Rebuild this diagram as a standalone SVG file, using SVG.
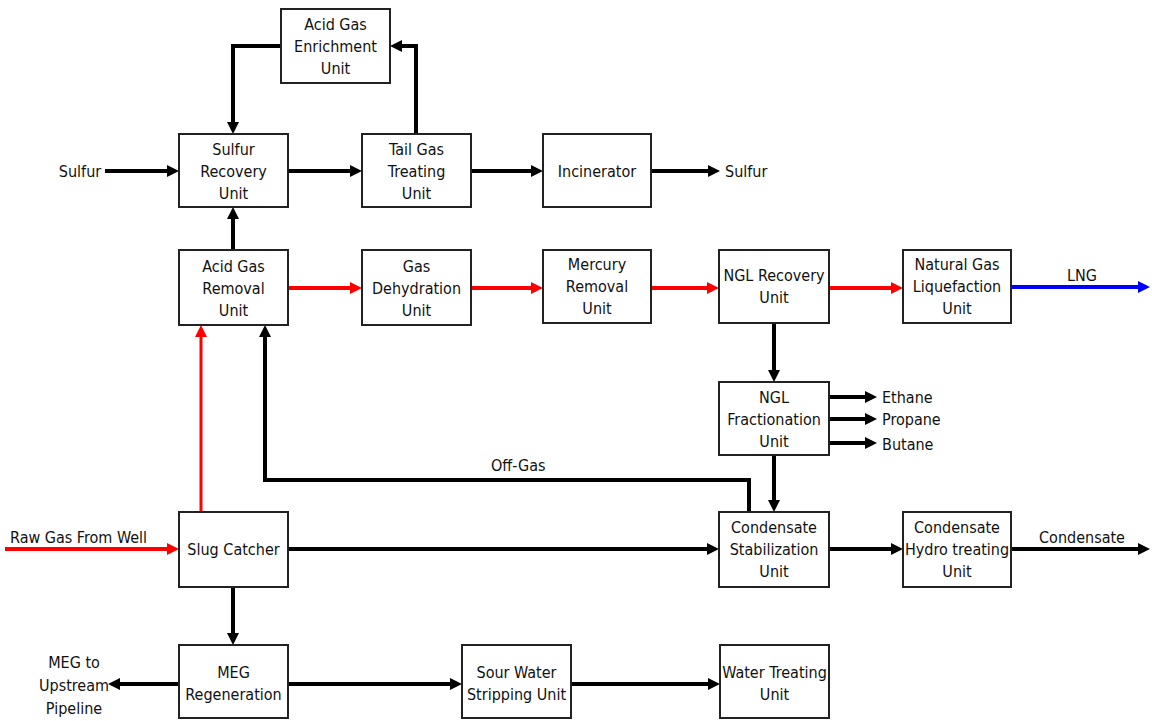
<svg xmlns="http://www.w3.org/2000/svg" width="1152" height="721" viewBox="0 0 1152 721">
<style>
.box{fill:#fff;stroke:#222;stroke-width:2}
.t{font-family:"Liberation Sans Narrow","DejaVu Sans Condensed","Liberation Sans",sans-serif;font-size:16px;fill:#111;text-anchor:middle}
.l{text-anchor:start}
.k{fill:none;stroke:#000;stroke-width:4}
.r{fill:none;stroke:#f00;stroke-width:4}
.rt{fill:none;stroke:#f00;stroke-width:3}
.b{fill:none;stroke:#00f;stroke-width:4}
</style>
<defs>
<marker id="ak" viewBox="0 0 12 12" markerWidth="12" markerHeight="12" markerUnits="userSpaceOnUse" refX="1" refY="6" orient="auto"><path d="M0,0 L12,6 L0,12 z" fill="#000"/></marker>
<marker id="ar" viewBox="0 0 12 12" markerWidth="12" markerHeight="12" markerUnits="userSpaceOnUse" refX="1" refY="6" orient="auto"><path d="M0,0 L12,6 L0,12 z" fill="#f00"/></marker>
<marker id="ab" viewBox="0 0 12 12" markerWidth="12" markerHeight="12" markerUnits="userSpaceOnUse" refX="1" refY="6" orient="auto"><path d="M0,0 L12,6 L0,12 z" fill="#00f"/></marker>
</defs>
<rect width="1152" height="721" fill="#fff"/>
<g id="connectors">
<path class="k" d="M105,171 H168" marker-end="url(#ak)"/>
<path class="k" d="M288,171 H351" marker-end="url(#ak)"/>
<path class="k" d="M471,171 H532" marker-end="url(#ak)"/>
<path class="k" d="M651,171 H709" marker-end="url(#ak)"/>
<path class="k" d="M416,134 V46 H401" marker-end="url(#ak)"/>
<path class="k" d="M281,46 H233 V123" marker-end="url(#ak)"/>
<path class="k" d="M233,250 V218" marker-end="url(#ak)"/>
<path class="r" d="M288,288 H351" marker-end="url(#ar)"/>
<path class="r" d="M471,288 H532" marker-end="url(#ar)"/>
<path class="r" d="M651,288 H708" marker-end="url(#ar)"/>
<path class="r" d="M829,288 H892" marker-end="url(#ar)"/>
<path class="b" d="M1011,287 H1139" marker-end="url(#ab)"/>
<path class="k" d="M774,323 V371" marker-end="url(#ak)"/>
<path class="k" d="M829,397 H866" marker-end="url(#ak)"/>
<path class="k" d="M829,419 H866" marker-end="url(#ak)"/>
<path class="k" d="M829,443 H866" marker-end="url(#ak)"/>
<path class="k" d="M774,455 V501" marker-end="url(#ak)"/>
<path class="k" d="M749,512 V480 H265 V336" marker-end="url(#ak)"/>
<path class="rt" d="M201,512 V336" marker-end="url(#ar)"/>
<path class="r" d="M5,549 H168" marker-end="url(#ar)"/>
<path class="k" d="M288,549 H708" marker-end="url(#ak)"/>
<path class="k" d="M829,549 H892" marker-end="url(#ak)"/>
<path class="k" d="M1011,549 H1139" marker-end="url(#ak)"/>
<path class="k" d="M233,587 V634" marker-end="url(#ak)"/>
<path class="k" d="M179,684 H119" marker-end="url(#ak)"/>
<path class="k" d="M288,684 H451" marker-end="url(#ak)"/>
<path class="k" d="M571,684 H709" marker-end="url(#ak)"/>
</g>
<g id="labels">
<text class="t" x="80" y="177">Sulfur</text>
<text class="t l" x="725" y="177">Sulfur</text>
<text class="t" x="1082" y="281">LNG</text>
<text class="t l" x="882" y="403">Ethane</text>
<text class="t l" x="882" y="425">Propane</text>
<text class="t l" x="882" y="450">Butane</text>
<text class="t l" x="491" y="471">Off-Gas</text>
<text class="t l" x="10" y="543">Raw Gas From Well</text>
<text class="t" x="1082" y="543">Condensate</text>
<text class="t" x="74" y="668">MEG to</text>
<text class="t" x="74" y="691">Upstream</text>
<text class="t" x="74" y="714">Pipeline</text>
</g>
<g id="age"><rect class="box" x="281" y="9" width="109" height="74"/><text class="t" x="335.5" y="30">Acid Gas</text><text class="t" x="335.5" y="52">Enrichment</text><text class="t" x="335.5" y="74">Unit</text></g>
<g id="sru"><rect class="box" x="179" y="134" width="109" height="73"/><text class="t" x="233.5" y="155">Sulfur</text><text class="t" x="233.5" y="177">Recovery</text><text class="t" x="233.5" y="199">Unit</text></g>
<g id="tgtu"><rect class="box" x="362" y="134" width="109" height="73"/><text class="t" x="416.5" y="155">Tail Gas</text><text class="t" x="416.5" y="177">Treating</text><text class="t" x="416.5" y="199">Unit</text></g>
<g id="inc"><rect class="box" x="543" y="134" width="108" height="73"/><text class="t" x="597" y="177">Incinerator</text></g>
<g id="agru"><rect class="box" x="179" y="250" width="109" height="75"/><text class="t" x="233.5" y="272">Acid Gas</text><text class="t" x="233.5" y="294">Removal</text><text class="t" x="233.5" y="316">Unit</text></g>
<g id="gdu"><rect class="box" x="362" y="250" width="109" height="75"/><text class="t" x="416.5" y="272">Gas</text><text class="t" x="416.5" y="294">Dehydration</text><text class="t" x="416.5" y="316">Unit</text></g>
<g id="mru"><rect class="box" x="543" y="250" width="108" height="73"/><text class="t" x="597" y="270">Mercury</text><text class="t" x="597" y="292">Removal</text><text class="t" x="597" y="314">Unit</text></g>
<g id="nglr"><rect class="box" x="719" y="250" width="110" height="73"/><text class="t" x="774" y="281">NGL Recovery</text><text class="t" x="774" y="303">Unit</text></g>
<g id="ngll"><rect class="box" x="903" y="250" width="108" height="73"/><text class="t" x="957" y="270">Natural Gas</text><text class="t" x="957" y="292">Liquefaction</text><text class="t" x="957" y="314">Unit</text></g>
<g id="nglf"><rect class="box" x="719" y="382" width="110" height="73"/><text class="t" x="774" y="403">NGL</text><text class="t" x="774" y="425">Fractionation</text><text class="t" x="774" y="447">Unit</text></g>
<g id="slug"><rect class="box" x="179" y="512" width="109" height="75"/><text class="t" x="233.5" y="555">Slug Catcher</text></g>
<g id="csu"><rect class="box" x="719" y="512" width="110" height="75"/><text class="t" x="774" y="533">Condensate</text><text class="t" x="774" y="555">Stabilization</text><text class="t" x="774" y="577">Unit</text></g>
<g id="chtu"><rect class="box" x="903" y="512" width="108" height="75"/><text class="t" x="957" y="533">Condensate</text><text class="t" x="957" y="555">Hydro treating</text><text class="t" x="957" y="577">Unit</text></g>
<g id="meg"><rect class="box" x="179" y="645" width="109" height="73"/><text class="t" x="233.5" y="678">MEG</text><text class="t" x="233.5" y="700">Regeneration</text></g>
<g id="sws"><rect class="box" x="462" y="645" width="109" height="73"/><text class="t" x="516.5" y="678">Sour Water</text><text class="t" x="516.5" y="700">Stripping Unit</text></g>
<g id="wtu"><rect class="box" x="720" y="645" width="109" height="73"/><text class="t" x="774.5" y="678">Water Treating</text><text class="t" x="774.5" y="700">Unit</text></g>
</svg>
